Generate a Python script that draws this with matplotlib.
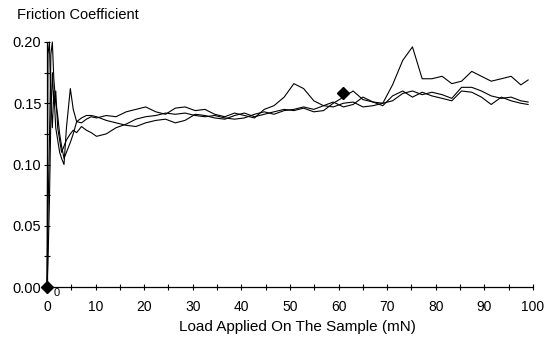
import matplotlib
matplotlib.use("Agg")
import matplotlib.pyplot as plt
from matplotlib.ticker import MultipleLocator, FixedLocator, FixedFormatter

plt.rcParams['font.family'] = ['Liberation Sans', 'DejaVu Sans']

# ---- data ----
x_early = [0, 0.2, 0.5, 0.8, 1.1, 1.4, 1.8, 2.2, 2.6, 3.0, 3.5, 4.0, 4.8, 5.4, 6.1, 7.1, 8.1, 9.1]
x_main = [10.2, 12.2, 14.2, 16.3, 18.3, 20.3, 22.4, 24.4, 26.4, 28.4, 30.5, 32.5, 34.5, 36.6,
          38.6, 40.6, 42.7, 44.7, 46.7, 48.8, 50.8, 52.8, 54.9, 56.9, 58.9, 61.0, 63.0, 65.0,
          67.1, 69.1, 71.1, 73.2, 75.2, 77.2, 79.2, 81.3, 83.3, 85.3, 87.4, 89.4, 91.4, 93.5,
          95.5, 97.5, 99.0]
load = x_early + x_main

run_a = [0, 0.19, 0.20, 0.15, 0.13, 0.16, 0.13, 0.12, 0.11, 0.105, 0.100, 0.130, 0.162, 0.145, 0.135, 0.134, 0.137, 0.139,
         0.138, 0.140, 0.139, 0.143, 0.145, 0.147, 0.143, 0.141, 0.146, 0.147,
         0.144, 0.145, 0.141, 0.139, 0.142, 0.140, 0.138, 0.145, 0.148, 0.155,
         0.166, 0.162, 0.152, 0.148, 0.147, 0.150, 0.151, 0.147, 0.148, 0.150,
         0.165, 0.185, 0.196, 0.170, 0.170, 0.172, 0.166, 0.168, 0.176, 0.172,
         0.168, 0.170, 0.172, 0.165, 0.169]
run_b = [0, 0.06, 0.12, 0.19, 0.20, 0.17, 0.15, 0.14, 0.125, 0.115, 0.105, 0.110, 0.118, 0.125, 0.135, 0.138, 0.140, 0.140,
         0.139, 0.136, 0.134, 0.132, 0.131, 0.134, 0.136, 0.137, 0.134, 0.136,
         0.141, 0.140, 0.138, 0.137, 0.140, 0.142, 0.139, 0.141, 0.143, 0.145,
         0.144, 0.146, 0.143, 0.144, 0.150, 0.155, 0.160, 0.153, 0.151, 0.150,
         0.152, 0.158, 0.160, 0.157, 0.159, 0.157, 0.154, 0.163, 0.163, 0.160,
         0.156, 0.154, 0.155, 0.152, 0.151]
run_c = [0, 0.02, 0.07, 0.14, 0.175, 0.15, 0.16, 0.13, 0.12, 0.11, 0.115, 0.120, 0.125, 0.128, 0.126, 0.131, 0.128, 0.126,
         0.123, 0.125, 0.130, 0.133, 0.137, 0.139, 0.140, 0.142, 0.141, 0.142,
         0.140, 0.139, 0.140, 0.138, 0.137, 0.138, 0.141, 0.143, 0.141, 0.144,
         0.145, 0.147, 0.145, 0.148, 0.151, 0.147, 0.149, 0.155, 0.151, 0.148,
         0.156, 0.160, 0.155, 0.159, 0.156, 0.154, 0.152, 0.160, 0.159, 0.155,
         0.149, 0.155, 0.152, 0.150, 0.149]

marker_x = [0, 61]
marker_y = [0.0, 0.158]

x_ticks = [0, 10, 20, 30, 40, 50, 60, 70, 80, 90, 100]
y_ticks = [0.00, 0.05, 0.10, 0.15, 0.20]
y_labels = ["0.00", "0.05", "0.10", "0.15", "0.20"]

# ---- figure ----
fig = plt.figure(figsize=(5.51, 3.42), dpi=100)
ax = fig.add_axes([0.0853, 0.1608, 0.882, 0.7164])

for series in (run_a, run_b, run_c):
    ax.plot(load, series, color='black', lw=0.8, clip_on=False)

ax.plot(marker_x, marker_y, linestyle='none', marker='D', markersize=6.5,
        color='black', clip_on=False, zorder=5)
ax.annotate("0", xy=(0, 0), xytext=(5, -4), textcoords='offset points',
            fontsize=8, ha='left', va='center', annotation_clip=False)

ax.set_xlim(0, 100)
ax.set_ylim(0, 0.20)
ax.spines['top'].set_visible(False)
ax.spines['right'].set_visible(False)
for s in ('left', 'bottom'):
    ax.spines[s].set_linewidth(0.9)

ax.xaxis.set_major_locator(FixedLocator(x_ticks))
ax.xaxis.set_minor_locator(MultipleLocator(5))
ax.yaxis.set_major_locator(FixedLocator(y_ticks))
ax.yaxis.set_major_formatter(FixedFormatter(y_labels))
ax.yaxis.set_minor_locator(MultipleLocator(0.025))

ax.tick_params(which='both', direction='inout', length=5, width=0.8, color='black')
ax.tick_params(axis='x', which='major', labelsize=10, pad=7)
ax.tick_params(axis='y', which='major', labelsize=10.5, pad=1.5)

ax.set_xlabel("Load Applied On The Sample (mN)", fontsize=11)
ax.xaxis.set_label_coords(0.515, -0.135)
fig.text(0.031, 0.955, "Friction Coefficient", fontsize=10.5, ha='left', va='center')

fig.savefig("out.png", dpi=100)
